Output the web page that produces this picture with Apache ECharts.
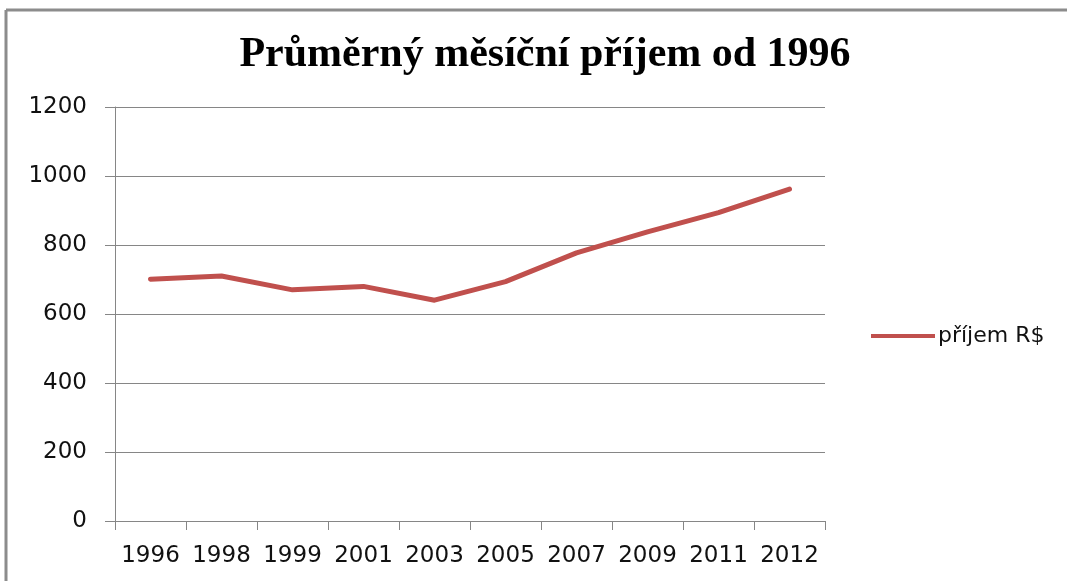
<!DOCTYPE html>
<html>
<head>
<meta charset="utf-8">
<script src="https://cdn.jsdelivr.net/npm/echarts@6/dist/echarts.min.js"></script>
<style>
html,body{margin:0;padding:0;background:#fff;}
#chart{width:1067px;height:581px;}
</style>
</head>
<body>
<div id="chart"></div>
<script>
const titleText = 'Průměrný měsíční příjem od 1996';
const seriesName = 'příjem R$';
const categories = ['1996','1998','1999','2001','2003','2005','2007','2009','2011','2012'];
const incomeValues = [701, 710, 670, 680, 640, 694, 777, 838, 894, 962];
const yTicks = [0, 200, 400, 600, 800, 1000, 1200];

const chart = echarts.init(document.getElementById('chart'), null, {renderer:'canvas'});
const axisGray = '#868686';
const labelFont = 'DejaVu Sans';
chart.setOption({
  backgroundColor: '#ffffff',
  animation: false,
  title: {
    text: titleText,
    left: 540, top: 29,
    textAlign: 'center',
    textStyle: {fontFamily: 'Liberation Serif', fontWeight: 'bold', fontSize: 42, color: '#000'}
  },
  legend: {
    data: [seriesName],
    left: 866, top: 320,
    itemWidth: 64, itemHeight: 14, itemGap: 2,
    icon: 'path://M0,5 L64,5 L64,9 L0,9 Z',
    textStyle: {fontFamily: labelFont, fontSize: 22, color: '#111', padding:[0,0,0,-2]}
  },
  grid: {left: 115, right: 242, top: 107, bottom: 60, containLabel: false},
  xAxis: {
    type: 'category',
    data: categories,
    boundaryGap: true,
    axisLine: {lineStyle: {color: axisGray, width: 1}},
    axisTick: {show: true, length: 9, lineStyle: {color: axisGray}, alignWithLabel: false},
    axisLabel: {fontFamily: labelFont, fontSize: 23, color: '#111', margin: 24, interval: 0}
  },
  yAxis: {
    type: 'value',
    min: yTicks[0], max: yTicks[yTicks.length-1], interval: 200,
    axisLine: {show: true, lineStyle: {color: axisGray, width: 1}},
    axisTick: {show: true, length: 10, lineStyle: {color: axisGray}},
    axisLabel: {fontFamily: labelFont, fontSize: 23, color: '#111', margin: 28, formatter: v => String(v)},
    splitLine: {show: true, lineStyle: {color: axisGray, width: 1}}
  },
  series: [{
    name: seriesName,
    type: 'line',
    data: incomeValues,
    symbol: 'none',
    lineStyle: {color: '#c0504d', width: 5, cap: 'round', join: 'round'},
    itemStyle: {color: '#c0504d'}
  }],
  graphic: [
    {type: 'line', shape: {x1: 6, y1: 10, x2: 1067, y2: 10}, style: {stroke: '#8c8c8c', lineWidth: 3}},
    {type: 'line', shape: {x1: 6, y1: 10, x2: 6, y2: 581}, style: {stroke: '#8c8c8c', lineWidth: 3}}
  ]
});
</script>
</body>
</html>
